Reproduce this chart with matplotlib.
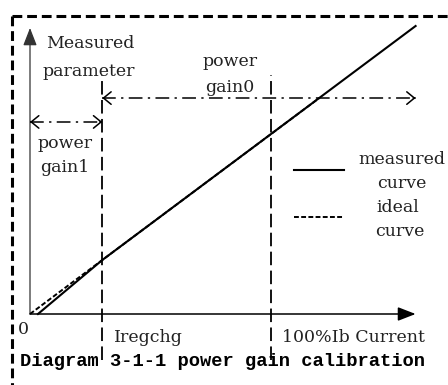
import matplotlib
matplotlib.use("Agg")
import matplotlib.pyplot as plt
from matplotlib.patches import FancyArrowPatch

# diagram data (x: current in % of Ib, y: measured parameter, same units)
iregchg = 30
ib_full = 100
x_axis_end = 160
y_axis_end = 118.7

measured_x = [3.3, 30, 160]
measured_y = [0, 22.4, 119.5]
ideal_x = [0, 30, 120]
ideal_y = [0, 22.4, 89.6]

gain1_y = 79.7
gain0_y = 89.6
marker_top = 99.2
marker_bottom = -19.1

PX = 2.41  # pixels per data unit
W, H = 448, 385
OX, OY = 30, 314  # origin in pixels


def pt(px, py):
    # pixel position -> data position, for text placement
    return (px - OX) / PX, (OY - py) / PX


fig = plt.figure(figsize=(W / 100, H / 100), dpi=100)
ax = fig.add_axes([0, 0, 1, 1])
ax.set_xlim(-OX / PX, (W - OX) / PX)
ax.set_ylim((OY - H) / PX, OY / PX)
ax.axis("off")

font = {"family": "DejaVu Serif", "size": 12.5, "color": "#222222"}

# outer dashed frame
ax.plot([12 / W, 1.0], [1 - 16 / H, 1 - 16 / H], transform=ax.transAxes,
        color="black", lw=2.2, linestyle=(0, (3.2, 1.6)), clip_on=False)
ax.plot([12 / W, 12 / W], [1 - 16 / H, 0], transform=ax.transAxes,
        color="black", lw=2.2, linestyle=(0, (3.2, 1.6)), clip_on=False)

# axes with arrows
ax.add_patch(FancyArrowPatch((0, 0), (x_axis_end, 0), arrowstyle="-|>,head_length=0.9,head_width=0.35",
                             mutation_scale=12, color="black", lw=1.1, shrinkA=0, shrinkB=0))
ax.add_patch(FancyArrowPatch((0, 0), (0, y_axis_end), arrowstyle="-|>,head_length=0.9,head_width=0.35",
                             mutation_scale=12, color="#333333", lw=0.9, shrinkA=0, shrinkB=0))

# vertical markers
for xv in [iregchg, ib_full]:
    ax.plot([xv, xv], [marker_bottom, marker_top], color="black", lw=1.3,
            linestyle=(0, (7.5, 3)))

# curves
ax.plot(ideal_x, ideal_y, color="black", lw=1.4, linestyle=(0, (2.5, 1.2)))
ax.plot(measured_x, measured_y, color="black", lw=1.5)

# dash-dot range arrows
dashdot = (0, (9, 3.5, 1.5, 3.5))
for x0, x1, yv in [(0, iregchg, gain1_y), (iregchg, x_axis_end, gain0_y)]:
    ax.plot([x0, x1], [yv, yv], color="black", lw=1.1, linestyle=dashdot)
    for a, b in [(x0 + 1, x0), (x1 - 1, x1)]:
        ax.add_patch(FancyArrowPatch((a, yv), (b, yv), arrowstyle="->,head_length=0.55,head_width=0.45",
                                     mutation_scale=10, color="black", lw=1.1, shrinkA=0, shrinkB=0))

# legend
lx0, lx1 = pt(294, 0)[0], pt(344, 0)[0]
ax.plot([lx0, lx1], [pt(0, 170)[1]] * 2, color="black", lw=1.5)
ax.plot([lx0, lx1], [pt(0, 217)[1]] * 2, color="black", lw=1.4, linestyle=(0, (2.5, 1.2)))

labels = [
    ("Measured", 90, 44), ("parameter", 89, 71),
    ("power", 230, 62), ("gain0", 230, 88),
    ("power", 65, 143), ("gain1", 65, 168),
    ("measured", 402, 160), ("curve", 402, 184),
    ("ideal", 398, 207), ("curve", 400, 232),
    ("0", 23, 330),
]
for s, px, py in labels:
    ax.text(*pt(px, py), s, ha="center", va="center", fontdict=font)

ax.text(*pt(114, 338), "Iregchg", ha="left", va="center", fontdict=font)
ax.text(*pt(282, 338), "100%Ib Current", ha="left", va="center", fontdict=font)

ax.text(*pt(20, 361), "Diagram 3-1-1 power gain calibration", ha="left", va="center",
        family="Liberation Mono", weight="bold", size=13.5, color="black")

fig.savefig("out.png", dpi=100)
